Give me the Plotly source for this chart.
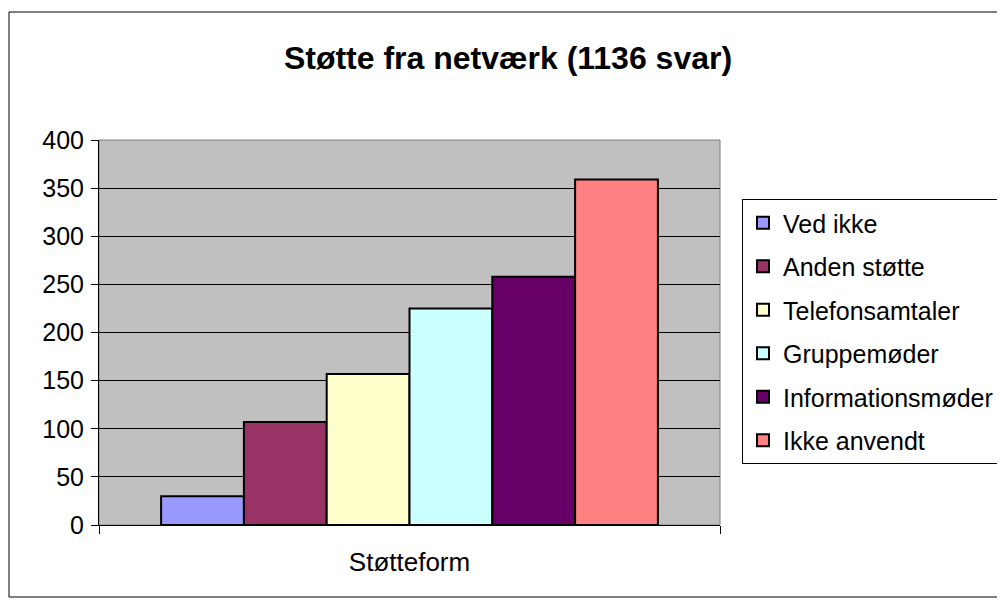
import plotly.graph_objects as go

category = ["Støtteform"]
series_names = ["Ved ikke", "Anden støtte", "Telefonsamtaler", "Gruppemøder",
                "Informationsmøder", "Ikke anvendt"]
series_values = [30, 107, 157, 225, 258, 359]
series_colors = ["#9999ff", "#993366", "#ffffcc", "#ccffff", "#660066", "#ff8080"]

font_name = "Liberation Sans, Arial, sans-serif"

# the page body adds 8px of margin, so figure pixels = window pixels - 8
plot_l, plot_r, plot_t, plot_b = 91, 712, 132, 517
plot_w = plot_r - plot_l
plot_h = plot_b - plot_t


def px_x(x):
    return (x - plot_l) / plot_w


def px_y(y):
    return (plot_b - y) / plot_h


fig = go.Figure()
for name, val, col in zip(series_names, series_values, series_colors):
    fig.add_trace(go.Bar(
        x=category,
        y=[val],
        name=name,
        legendgroup=name,
        marker=dict(color=col, line=dict(color="black", width=2)),
    ))

fig.update_layout(
    width=1005,
    height=605,
    margin=dict(l=plot_l, r=1005 - plot_r, t=plot_t, b=605 - plot_b, autoexpand=False),
    paper_bgcolor="white",
    plot_bgcolor="#c0c0c0",
    barmode="group",
    bargap=0.2,
    bargroupgap=0,
    font=dict(family=font_name, size=25, color="black"),
    title=dict(
        text="<b>Støtte fra netværk (1136 svar)</b>",
        x=500 / 1005,
        xanchor="center",
        y=1 - 50 / 605,
        yanchor="middle",
        font=dict(family=font_name, size=32, color="black"),
    ),
    legend=dict(
        x=px_x(734),
        xanchor="left",
        y=px_y(191),
        yanchor="top",
        bordercolor="black",
        borderwidth=1,
        bgcolor="white",
        traceorder="grouped",
        tracegroupgap=8,
        font=dict(family=font_name, size=25, color="black"),
    ),
    showlegend=True,
)

fig.update_yaxes(
    range=[0, 400],
    dtick=50,
    showgrid=True,
    gridcolor="black",
    gridwidth=1,
    showline=True,
    linecolor="black",
    linewidth=1,
    ticks="outside",
    ticklen=7,
    tickcolor="black",
    zeroline=False,
    tickfont=dict(size=25),
    ticklabelstandoff=2,
)
fig.update_xaxes(
    showline=True,
    linecolor="black",
    linewidth=1,
    ticks="outside",
    tickson="boundaries",
    ticklen=8,
    tickcolor="black",
    showgrid=False,
    tickfont=dict(size=26),
    ticklabelstandoff=14,
)

# plot area border and outer chart border
fig.add_shape(type="rect", xref="paper", yref="paper", x0=0, x1=1, y0=0, y1=1,
              line=dict(color="#808080", width=1), layer="below")
fig.add_shape(type="rect", xref="paper", yref="paper",
              x0=px_x(1), x1=px_x(1010),
              y0=px_y(589), y1=px_y(4),
              line=dict(color="black", width=1))

fig.write_html("out.html")
